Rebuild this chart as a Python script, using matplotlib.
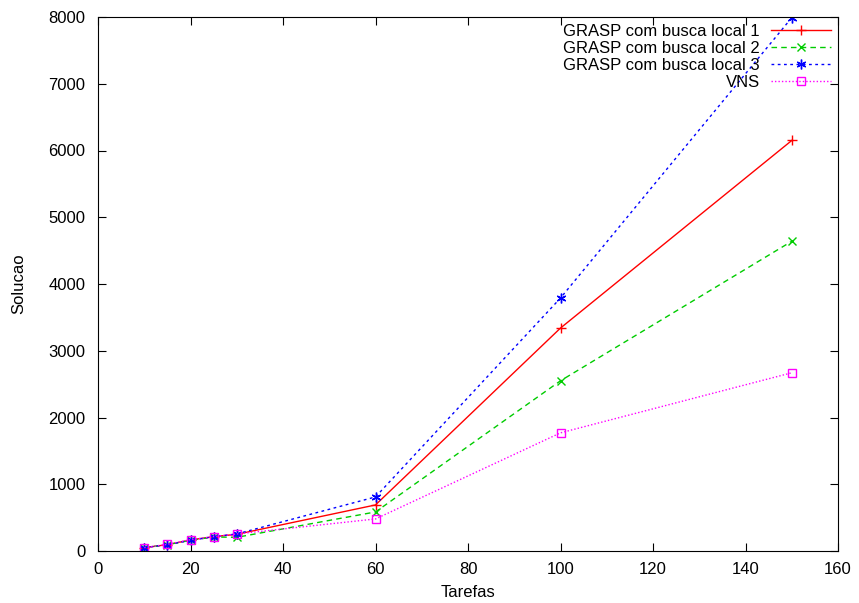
import matplotlib.pyplot as plt

tarefas = [10, 15, 20, 25, 30, 60, 100, 150]
grasp1 = [50, 95, 165, 215, 250, 690, 3340, 6150]
grasp2 = [50, 95, 160, 210, 205, 585, 2550, 4640]
grasp3 = [50, 95, 160, 215, 255, 810, 3790, 7990]
vns = [50, 100, 170, 215, 255, 480, 1770, 2670]

plt.rcParams['font.family'] = ['Liberation Sans', 'DejaVu Sans']
plt.rcParams['font.size'] = 12

fig = plt.figure(figsize=(8.59, 6.03), dpi=100)
ax = fig.add_axes([98 / 859, 52 / 603, 740 / 859, 534 / 603])

ax.plot(tarefas, grasp1, '-', color='#ff0000', marker='+', ms=7, lw=1,
        label='GRASP com busca local 1')
ax.plot(tarefas, grasp2, '--', color='#00cc00', marker='x', ms=6, lw=1,
        dashes=(4, 3), label='GRASP com busca local 2')
ax.plot(tarefas, grasp3, ':', color='#0000ff', marker=(6, 2, 0), ms=7, lw=1,
        dashes=(2, 2.5), label='GRASP com busca local 3')
ax.plot(tarefas, vns, ':', color='#ff00ff', marker='s', ms=6, lw=1,
        mfc='none', dashes=(1, 1.5), label='VNS')

ax.set_xlim(0, 160)
ax.set_ylim(0, 8000)
ax.set_xticks(range(0, 161, 20))
ax.set_yticks(range(0, 8001, 1000))
ax.tick_params(direction='in', top=True, right=True, length=6)
ax.tick_params(axis='y', pad=9)
ax.tick_params(axis='x', pad=8)
ax.set_xlabel('Tarefas', labelpad=6)
ax.set_ylabel('Solucao', labelpad=16)

ax.legend(loc='upper right', frameon=False, markerfirst=False,
          handlelength=3.6, labelspacing=0.13, borderaxespad=0.1,
          handletextpad=0.7, borderpad=0.3)
for t in ax.get_legend().get_texts():
    t.set_ha('right')

fig.savefig('out.png', dpi=100)
